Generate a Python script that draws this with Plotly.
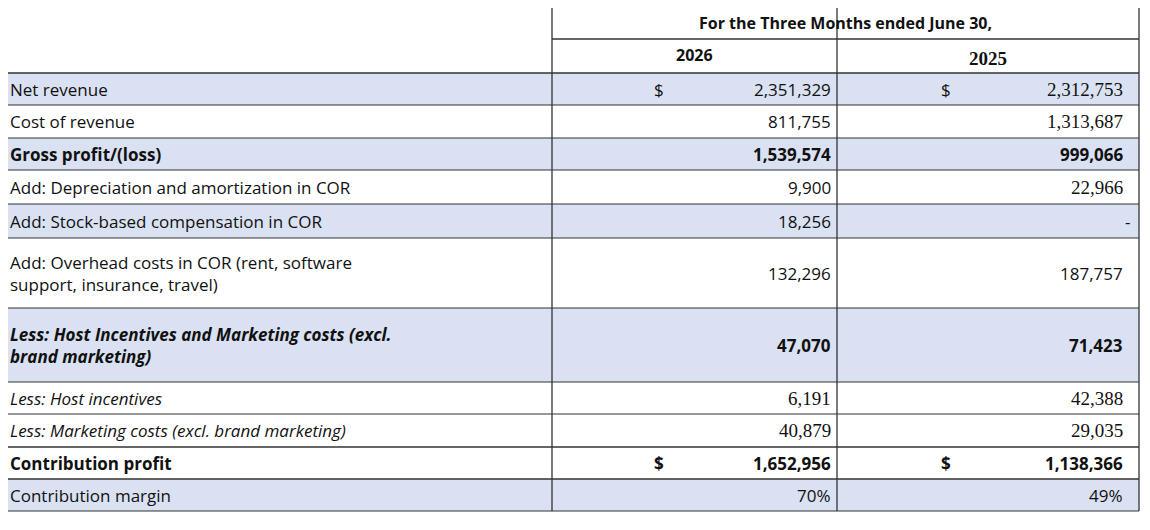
import plotly.graph_objects as go

labels = ["Net revenue", "Cost of revenue", "Gross profit/(loss)",
          "Add: Depreciation and amortization in COR",
          "Add: Stock-based compensation in COR",
          "Add: Overhead costs in COR (rent, software<br>support, insurance, travel)",
          "Less: Host Incentives and Marketing costs (excl.<br>brand marketing)",
          "Less: Host incentives",
          "Less: Marketing costs (excl. brand marketing)",
          "Contribution profit", "Contribution margin"]
v2026 = ["2,351,329", "811,755", "1,539,574", "9,900", "18,256", "132,296",
         "47,070", "6,191", "40,879", "1,652,956", "70%"]
v2025 = ["2,312,753", "1,313,687", "999,066", "22,966", "-", "187,757",
         "71,423", "42,388", "29,035", "1,138,366", "49%"]
dollar = [True, False, False, False, False, False, False, False, False, True, False]
bold = [False, False, True, False, False, False, True, False, False, True, False]
italic = [False, False, False, False, False, False, True, True, True, False, False]
shaded = [True, False, True, False, True, False, True, False, False, False, True]
serif26 = [False, False, False, False, False, False, False, True, True, False, False]
serif25 = [True, True, False, True, False, False, False, True, True, False, False]
heights = [32, 33, 32, 34, 34, 70, 74, 32, 33, 32, 32]

title = "For the Three Months ended June 30,"
years = ["2026", "2025"]

X0, X1, X2, X3 = 3, 552, 837, 1139
Y0, YH1, YH2 = 5, 39, 73
SANS = "Open Sans"
SERIF = "Liberation Serif"
FILL = "#d9e1f2"
LINE = "#333333"
OFF = 8  # page offset

fig = go.Figure()
shapes, ann = [], []

def txt(x, y, s, anchor, b=False, it=False, fam=SANS, size=17):
    if b:
        s = "<b>" + s + "</b>"
    if it:
        s = "<i>" + s + "</i>"
    ann.append(dict(x=x, y=y, text=s, showarrow=False, xanchor=anchor, yanchor="middle",
                    align="left", font=dict(family=fam, size=size, color="#111")))

def hline(y, x0=X0, x1=X3, w=1.3):
    shapes.append(dict(type="line", x0=x0, x1=x1, y0=y, y1=y, line=dict(color=LINE, width=w)))

# header
hline(Y0)
hline(YH1, X1, X3)
hline(YH2, w=1.6)
txt((X1 + X3) / 2, (Y0 + YH1) / 2 + 1, title, "center", b=True, size=16)
txt((X1 + X2) / 2, (YH1 + YH2) / 2 - 1, years[0], "center", b=True, size=16)
txt((X2 + X3) / 2, (YH1 + YH2) / 2 + 2, years[1], "center", b=True, fam=SERIF, size=19)

y = YH2
for i, lab in enumerate(labels):
    h = heights[i]
    if shaded[i]:
        shapes.append(dict(type="rect", x0=X0, x1=X3, y0=y, y1=y + h, fillcolor=FILL,
                           line=dict(width=0), layer="below"))
    cy = y + h / 2
    txt(X0 + 5, cy, lab, "left", b=bold[i], it=italic[i])
    if dollar[i]:
        txt(X1 + 100, cy, "$", "left", b=bold[i])
        txt(X2 + 102, cy, "$", "left", b=bold[i])
    txt(X2 - 4, cy, v2026[i], "right", b=bold[i], fam=SERIF if serif26[i] else SANS,
        size=19 if serif26[i] else 17)
    txt(X3 - 14 if v2025[i] != "-" else X3 - 7, cy, v2025[i], "right", b=bold[i],
        fam=SERIF if serif25[i] else SANS, size=19 if serif25[i] else 17)
    y += h
    hline(y, w=1.6 if i in (8, 9) else 1.2)

for x in (X0, X1, X2, X3):
    shapes.append(dict(type="line", x0=x, x1=x, y0=Y0, y1=y, line=dict(color=LINE, width=1.3)))

fig.update_layout(width=1150, height=530, margin=dict(l=0, r=0, t=0, b=0),
                  plot_bgcolor="white", paper_bgcolor="white", shapes=shapes, annotations=ann,
                  xaxis=dict(range=[OFF, 1150 + OFF], visible=False, fixedrange=True),
                  yaxis=dict(range=[530 + OFF, OFF], visible=False, fixedrange=True),
                  showlegend=False)
fig.write_html("out.html")
